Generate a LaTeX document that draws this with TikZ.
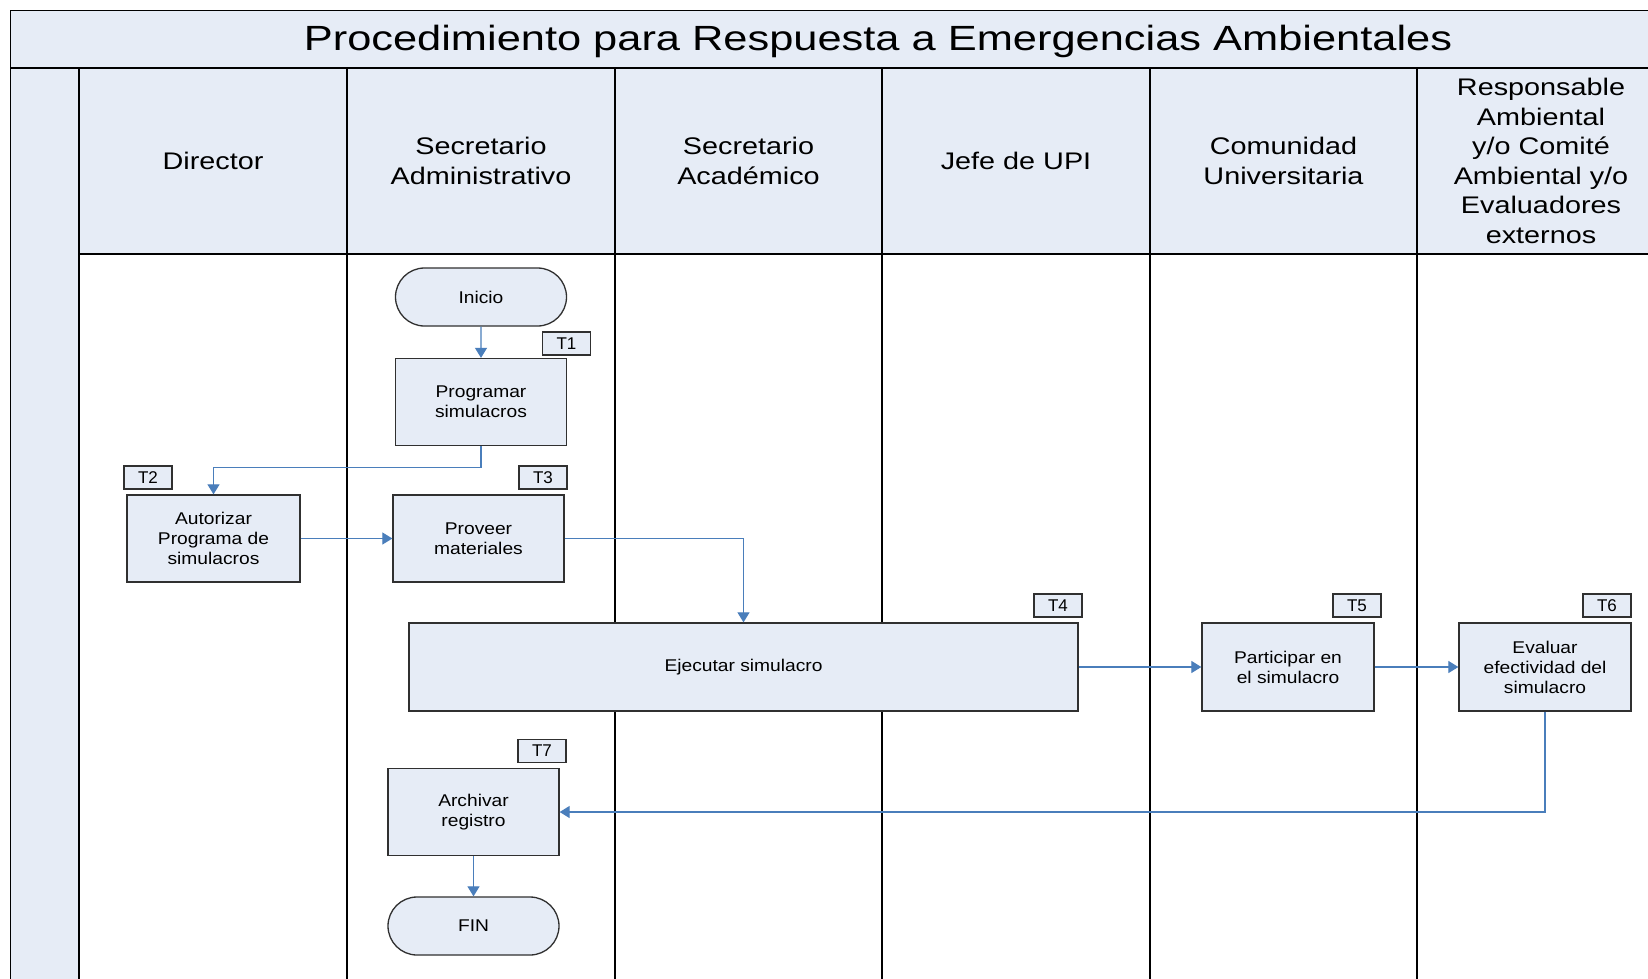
\documentclass[tikz,border=0pt]{standalone}
\usepackage{fontspec}
\setmainfont{Liberation Sans}
\newfontfamily\titlefont[FakeStretch=1.24]{Liberation Sans}
\newfontfamily\headfont[FakeStretch=1.2]{Liberation Sans}
\newfontfamily\boxfont[FakeStretch=1.13]{Liberation Sans}
\usetikzlibrary{arrows.meta,shapes.misc}

\definecolor{boxfill}{HTML}{E6ECF6}
\definecolor{arrowblue}{HTML}{4A7EBB}
\definecolor{edgegray}{HTML}{303030}

\begin{document}
\begin{tikzpicture}[x=1pt,y=-1pt,
 every node/.style={font=\fontsize{17}{20}\selectfont},
 task/.style={draw=edgegray, fill=boxfill, line width=1.3pt, minimum width=171pt, minimum height=87pt, align=center, inner sep=0pt, font=\boxfont\fontsize{17}{20}\selectfont},
 term/.style={draw=edgegray, fill=boxfill, line width=1.3pt, rounded rectangle, minimum width=171pt, minimum height=58pt, inner sep=0pt, font=\boxfont\fontsize{17}{20}\selectfont},
 tag/.style={draw=edgegray, fill=boxfill, line width=1.3pt, minimum width=48pt, minimum height=23pt, inner sep=0pt},
 flow/.style={draw=arrowblue, line width=1.2pt, -{Triangle[width=12pt,length=10pt]}},
 lane/.style={draw=black, line width=1.5pt},
 head/.style={font=\headfont\fontsize{24}{29.5}\selectfont, align=center}
]
\clip (0,0) rectangle (1648,979);
\fill[white] (0,0) rectangle (1648,979);

% frame
\draw[lane, fill=boxfill] (10.5,10.5) rectangle (1700,68);
\draw[lane, fill=boxfill] (10.5,68) rectangle (79,1000);
\draw[lane, fill=boxfill] (79,68) rectangle (1700,254);
\foreach \x in {347,615,882,1150,1417} \draw[lane] (\x,68) -- (\x,1000);

\node[font=\titlefont\fontsize{35}{40}\selectfont] (title) at (878,41) {Procedimiento para Respuesta a Emergencias Ambientales};

\node[head] (h1) at (213,161) {Director};
\node[head] (h2) at (481,161) {Secretario\\Administrativo};
\node[head] (h3) at (748.5,161) {Secretario\\Académico};
\node[head] (h4) at (1016,161) {Jefe de UPI};
\node[head] (h5) at (1283.5,161) {Comunidad\\Universitaria};
\node[head] (h6) at (1541,161) {Responsable\\Ambiental\\y/o Comité\\Ambiental y/o\\Evaluadores\\externos};

% nodes
\node[term] (inicio) at (481,297) {Inicio};
\node[task] (prog) at (481,402) {Programar\\simulacros};
\node[task, minimum width=173pt] (aut) at (213.5,538.5) {Autorizar\\Programa de\\simulacros};
\node[task] (prov) at (478.5,538.5) {Proveer\\materiales};
\node[task, minimum width=669pt, minimum height=88pt] (ejec) at (743.5,667) {Ejecutar simulacro};
\node[task, minimum width=172pt, minimum height=88pt] (part) at (1288,667) {Participar en\\el simulacro};
\node[task, minimum width=172pt, minimum height=88pt] (eval) at (1545,667) {Evaluar\\efectividad del\\simulacro};
\node[task] (arch) at (473.5,812) {Archivar\\registro};
\node[term] (fin) at (473.5,926) {FIN};

% tags
\node[tag] (t1) at (566.5,343.5) {T1};
\node[tag] (t2) at (148,477.5) {T2};
\node[tag] (t3) at (543,477.5) {T3};
\node[tag] (t4) at (1058,605.5) {T4};
\node[tag] (t5) at (1357,605.5) {T5};
\node[tag] (t6) at (1607,605.5) {T6};
\node[tag] (t7) at (542,751) {T7};

% connectors
\draw[flow] (inicio) -- (prog);
\draw[flow] (prog.south) -- ++(0,21) -| (aut.north);
\draw[flow] (aut) -- (prov);
\draw[flow] (prov.east) -| (ejec.north);
\draw[flow] (ejec) -- (part);
\draw[flow] (part) -- (eval);
\draw[flow] (eval.south) |- (arch.east);
\draw[flow] (arch) -- (fin);
\end{tikzpicture}
\end{document}
